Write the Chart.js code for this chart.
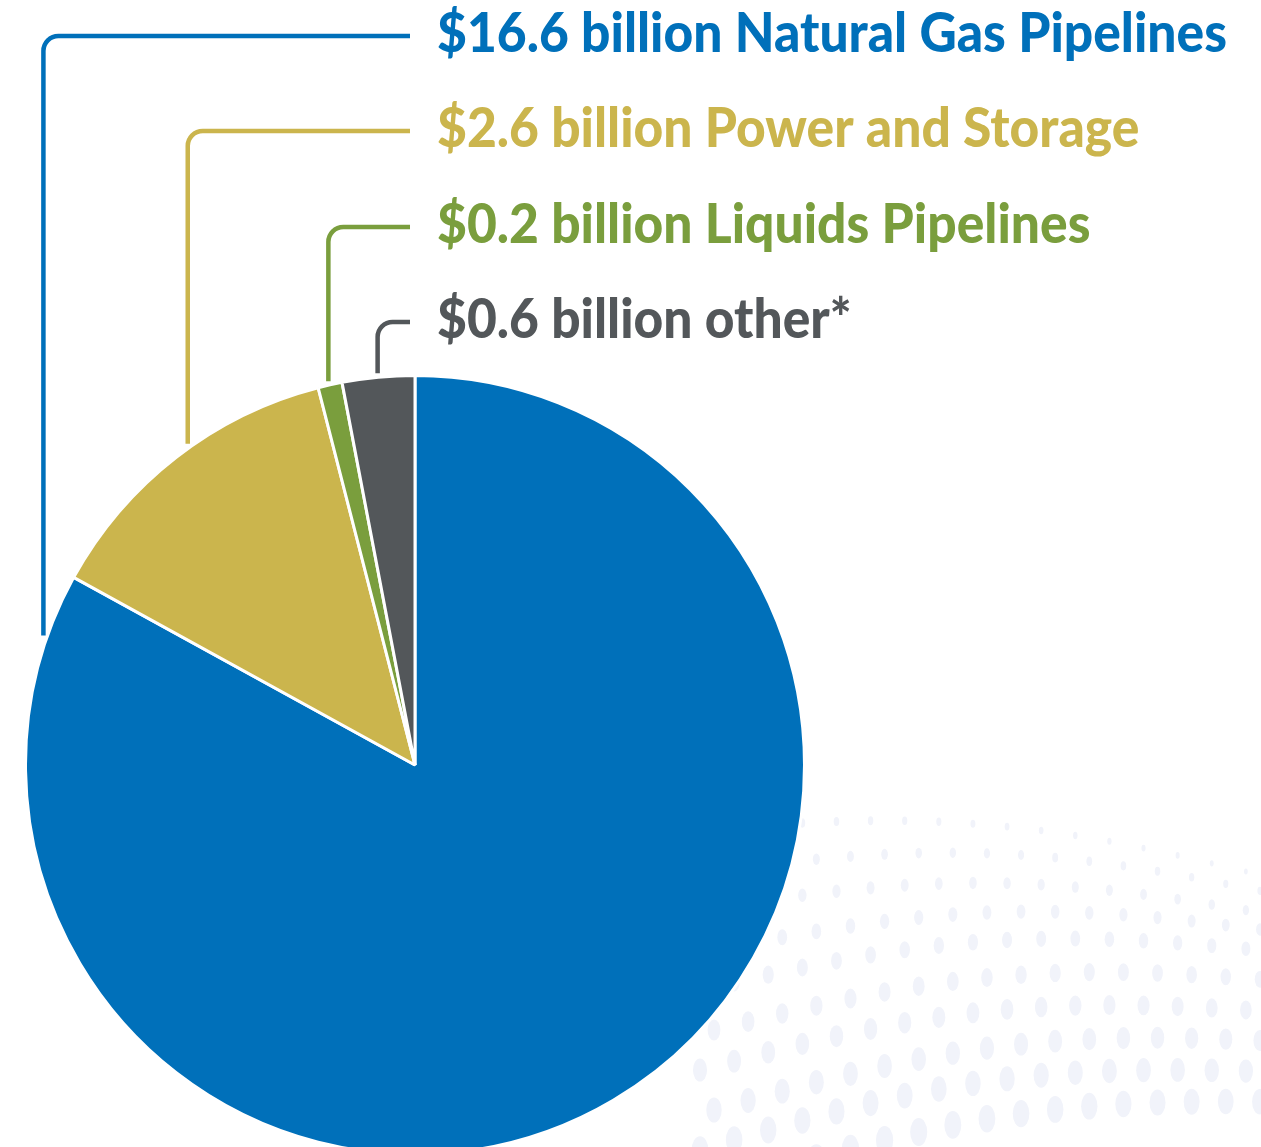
<!DOCTYPE html>
<html><head><meta charset="utf-8">
<script src="https://cdn.jsdelivr.net/npm/chart.js@4.4.1/dist/chart.umd.min.js"></script>
<style>html,body{margin:0;padding:0;background:#fff;overflow:hidden}#wrap{position:relative;width:1261px;height:1160px}</style>
</head><body><div id="wrap"><canvas id="c" width="1261" height="1160"></canvas></div>
<script>
// ---- data ----
const categories = ['Natural Gas Pipelines', 'Power and Storage', 'Liquids Pipelines', 'other*'];
const values = [16.6, 2.6, 0.2, 0.6];
const valueLabels = ['$16.6 billion', '$2.6 billion', '$0.2 billion', '$0.6 billion'];
const colors = ['#0070BA', '#CBB54D', '#7A9E3D', '#53575A'];

// ---- label layout (annotation only) ----
const labelX = 437;
const labelBaselines = [52, 147, 243, 338];
const leaderFraction = [0.962, 0.545, 0.43, 0.49];
const blueTargetWidth = 790;
const labelFont = '900 55px Lato';

function drawDots(ctx){
  ctx.save();
  ctx.fillStyle = '#F1F3FA';
  for (let j = 0; j < 10; j++){
    const n = 18;
    for (let k = 0; k < n; k++){
      const t = k / (n - 1);
      const x = 700 + t * 580 + (j % 2) * 14;
      const yl = 830 + j * 40;
      const yr = 880 + j * 18 + (j > 4 ? (j - 4) * 12 : 0);
      const y = yl + (yr - yl) * t - Math.sin(t * Math.PI) * 30;
      const s = 0.8 + j * 0.3 + (1 - t) * 0.6;
      ctx.beginPath();
      ctx.ellipse(x, y, 2.2 * s, 3.6 * s, 0, 0, Math.PI * 2);
      ctx.fill();
    }
  }
  ctx.restore();
}

const decor = {
  id: 'decor',
  beforeDraw(chart){ drawDots(chart.ctx); }
};

const leaders = {
  id: 'leaders',
  afterDatasetsDraw(chart){
    const ctx = chart.ctx;
    const meta = chart.getDatasetMeta(0);
    ctx.save();
    ctx.font = labelFont;
    const full0 = valueLabels[0] + ' ' + categories[0];
    const sx = blueTargetWidth / ctx.measureText(full0).width;
    meta.data.forEach((arc, i) => {
      const p = arc.getProps(['x', 'y', 'startAngle', 'endAngle', 'outerRadius'], true);
      const a = p.startAngle + leaderFraction[i] * (p.endAngle - p.startAngle);
      const R = p.outerRadius;
      const ax = p.x + R * Math.cos(a);
      const dx = ax - p.x;
      const endY = p.y - Math.sqrt(Math.max(0, (R + 4) * (R + 4) - dx * dx));
      const hy = labelBaselines[i] - 16;
      const rc = 15;
      ctx.beginPath();
      ctx.strokeStyle = colors[i];
      ctx.lineWidth = 4.5;
      ctx.moveTo(labelX - 27, hy);
      ctx.lineTo(ax + rc, hy);
      ctx.arcTo(ax, hy, ax, hy + rc, rc);
      ctx.lineTo(ax, endY);
      ctx.stroke();
      ctx.fillStyle = colors[i];
      ctx.textBaseline = 'alphabetic';
      ctx.textAlign = 'left';
      ctx.save();
      ctx.translate(labelX, labelBaselines[i]);
      ctx.scale(sx, 1);
      ctx.fillText(valueLabels[i] + ' ' + categories[i], 0, 0);
      ctx.restore();
    });
    ctx.restore();
  }
};

function make(){
  new Chart(document.getElementById('c'), {
    type: 'pie',
    data: {
      labels: categories,
      datasets: [{
        data: values,
        backgroundColor: colors,
        borderColor: '#ffffff',
        borderWidth: 3
      }]
    },
    options: {
      responsive: false,
      animation: false,
      devicePixelRatio: 1,
      layout: { padding: { left: 24, right: 455, top: 374, bottom: 4 } },
      plugins: { legend: { display: false }, tooltip: { enabled: false } }
    },
    plugins: [decor, leaders]
  });
}
(document.fonts && document.fonts.load ? document.fonts.load(labelFont) : Promise.resolve()).then(make, make);
</script>
</body></html>
